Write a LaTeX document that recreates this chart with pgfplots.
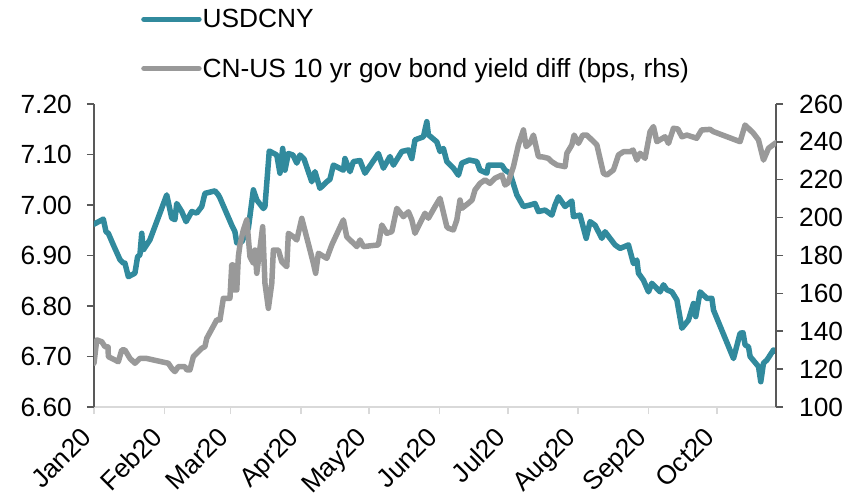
\documentclass[border=0pt]{standalone}
\usepackage{pgfplots}
\pgfplotsset{compat=1.18}
\usepackage{pgfplotstable}
\usepackage{fontspec}
\setmainfont{Liberation Sans}
\definecolor{cnyteal}{RGB}{49,138,157}
\definecolor{bondgray}{RGB}{153,153,153}
\definecolor{axdark}{RGB}{89,89,89}
\definecolor{axlight}{RGB}{217,217,217}

\pgfplotstableread{
d v
0 6.962
4.1 6.972
5.3 6.947
6.3 6.944
8.5 6.921
11.4 6.892
12.9 6.885
13.6 6.885
15.1 6.858
18.0 6.865
19.2 6.898
20.2 6.901
21.0 6.944
21.7 6.911
24.6 6.931
32.0 7.020
34.2 6.974
35.6 6.971
36.4 7.003
38.6 6.987
40.5 6.967
43.0 6.987
45.2 6.984
47.4 6.997
48.8 7.023
53.2 7.028
54.7 7.020
55.4 7.014
60.6 6.960
62.0 6.947
62.8 6.925
65.0 6.927
67.9 6.954
70.1 7.030
71.6 7.010
74.5 6.993
75.2 6.997
77.1 7.107
80.4 7.099
81.8 7.063
83.0 7.112
84.0 7.069
85.5 7.102
87.5 7.099
89.2 7.083
90.6 7.099
92.4 7.091
95.8 7.046
97.2 7.066
99.4 7.033
102.4 7.046
103.8 7.051
105.3 7.079
109.7 7.069
110.4 7.092
112.6 7.066
114.1 7.086
117.0 7.088
119.2 7.063
125.1 7.102
127.3 7.073
130.2 7.096
131.7 7.079
135.4 7.106
138.3 7.109
139.8 7.092
141.2 7.129
144.9 7.135
146.4 7.165
147.1 7.139
150.8 7.125
152.2 7.106
153.7 7.112
155.2 7.086
158.1 7.073
160.3 7.059
161.8 7.083
165.1 7.089
168.4 7.086
169.8 7.069
172.8 7.063
173.5 7.079
179.4 7.079
180.8 7.069
183.0 7.063
186.0 7.020
188.9 6.997
191.8 7.000
194.0 7.003
195.5 6.987
198.4 6.990
201.4 6.980
202.8 7.000
204.3 7.016
207.2 6.997
210.2 7.008
210.9 6.977
213.8 6.980
216.5 6.934
218.2 6.967
220.4 6.960
223.4 6.934
224.8 6.947
227.0 6.934
229.2 6.921
231.4 6.914
235.1 6.921
237.3 6.884
238.8 6.891
239.5 6.865
241.7 6.851
243.9 6.828
245.4 6.845
249.0 6.828
250.5 6.842
252.0 6.832
254.2 6.828
256.4 6.812
258.6 6.756
261.5 6.772
263.7 6.805
264.7 6.779
266.6 6.828
269.6 6.815
271.8 6.815
272.5 6.792
281.3 6.696
284.2 6.746
285.5 6.747
286.4 6.723
287.9 6.719
288.6 6.700
292.3 6.680
293.3 6.650
294.5 6.687
296.0 6.693
298.9 6.713
300.0 6.710
}\cnytable

\pgfplotstableread{
d b
0 123.1
1.2 135.4
3.4 134.5
4.8 131.9
6.2 131.7
6.3 126.6
10.7 123.9
12.2 130.1
13.6 130.1
15.8 125.7
18.0 123.1
20.2 125.7
22.9 125.7
32.7 123.1
34.2 120.4
35.6 118.7
37.1 121.3
40.0 121.3
40.8 119.6
42.2 119.6
43.7 126.6
47.4 131.0
48.8 131.9
49.6 136.3
54.0 146.0
55.4 146.0
56.9 157.4
59.8 157.4
60.6 175.0
61.2 175.0
61.6 161.8
62.8 161.8
63.5 179.4
64.2 185.6
65.7 193.5
67.2 198.8
68.6 179.4
70.1 175.9
70.8 182.9
71.6 170.6
74.2 195.2
75.2 165.3
76.7 152.1
78.2 165.3
78.9 182.9
81.1 182.9
82.6 176.7
84.8 174.1
85.5 191.7
87.7 189.9
89.2 188.2
91.4 199.6
96.5 175.9
97.5 170.6
98.7 181.2
102.4 178.5
104.6 185.6
109.7 198.8
111.2 189.9
115.6 184.7
117.0 188.2
118.5 184.7
125.1 185.6
126.6 196.1
128.8 191.7
131.0 192.6
133.2 204.9
136.1 200.5
138.3 203.1
139.8 198.8
141.2 191.7
145.6 202.3
147.1 199.7
150.0 205.8
152.2 210.2
155.2 195.2
155.9 194.4
158.1 193.5
159.6 198.8
161.0 209.3
161.8 204.9
164.7 207.6
166.3 209.3
167.6 214.6
169.8 218.1
172.0 219.9
174.2 218.1
176.4 220.8
179.4 222.5
180.8 217.2
182.1 218.3
184.5 226.9
186.7 238.4
188.9 246.3
190.1 237.5
191.8 239.4
193.3 243.6
195.5 232.2
197.5 232.0
199.9 231.3
201.4 229.5
203.6 227.8
207.2 226.9
208.0 234.0
210.2 238.4
211.2 243.6
213.1 239.2
215.0 243.6
216.8 243.6
221.2 238.4
224.1 223.4
225.6 222.5
228.5 225.2
230.7 233.1
232.9 234.8
235.8 234.8
237.1 235.7
238.8 230.4
240.2 234.0
242.4 231.3
244.6 245.4
246.1 248.1
247.6 240.1
251.2 242.7
252.7 239.2
254.9 247.2
256.8 246.8
258.6 242.7
260.8 243.6
265.1 241.9
267.3 246.3
271.0 246.6
272.5 245.4
284.2 240.1
286.4 248.9
290.1 244.5
292.3 241.0
294.5 230.4
296.7 236.6
300.0 239.6
}\bondtable

\begin{document}
\begin{tikzpicture}
\pgfplotsset{
  every axis/.append style={
    scale only axis, width=682pt, height=303pt,
    xmin=0, xmax=300,
    font=\fontsize{26.3}{31}\selectfont,
    /pgf/number format/assume math mode=true,
    tick align=outside,
    major tick length=7pt,
  },
}
\begin{axis}[
  ymin=6.6, ymax=7.2,
  ytick={6.6,6.7,6.8,6.9,7.0,7.1,7.2},
  yticklabel={\pgfmathprintnumber[fixed,fixed zerofill,precision=2]{\tick}},
  axis x line*=bottom, axis y line*=left,
  x axis line style={draw=axlight, line width=2pt},
  y axis line style={draw=axdark, line width=1.5pt},
  xtick={0,31,60,91,121,152,182,213,244,274},
  xticklabels={Jan20,Feb20,Mar20,Apr20,May20,Jun20,Jul20,Aug20,Sep20,Oct20},
  xtick style={draw=axlight, line width=1.5pt},
  ytick style={draw=axdark, line width=1.5pt},
  xticklabel style={xshift=-14pt, yshift=-9pt, rotate=45, anchor=north east, inner sep=2pt},
  yticklabel style={inner sep=2pt, xshift=-13pt},
]
\addplot[cnyteal, line width=5.5pt, line join=round, line cap=round] table[x=d, y=v] {\cnytable};
\end{axis}
\begin{axis}[
  ymin=100, ymax=260,
  ytick={100,120,...,260},
  axis x line=none, axis y line*=right,
  y axis line style={draw=axdark, line width=1.5pt},
  ytick style={draw=axdark, line width=1.5pt},
  yticklabel style={inner sep=2pt, xshift=14pt},
  legend style={at={(rel axis cs:0,1)}, anchor=south west, xshift=47pt, yshift=24pt,
    draw=none, fill=none, row sep=27pt, inner sep=0pt,
    nodes={inner sep=1pt}},
  legend cell align=left,
  legend image code/.code={\draw[#1, line cap=round] (0pt,0pt) -- (55pt,0pt);},
]
\addlegendimage{cnyteal, line width=5.5pt}
\addlegendentry{USDCNY}
\addplot[bondgray, line width=5.5pt, line join=round, line cap=round] table[x=d, y=b] {\bondtable};
\addlegendentry{CN-US 10 yr gov bond yield diff (bps, rhs)}
\end{axis}
\pgfresetboundingbox
\path[use as bounding box] (-94pt,-87pt) rectangle (764pt,407pt);
\end{tikzpicture}
\end{document}
